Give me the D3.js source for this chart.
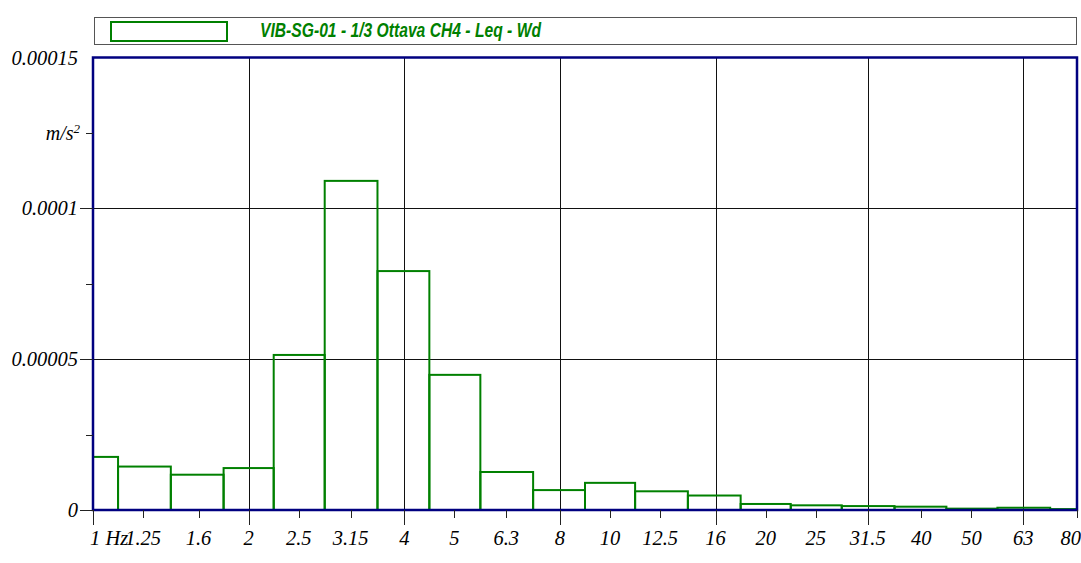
<!DOCTYPE html>
<html>
<head>
<meta charset="utf-8">
<script src="https://cdn.jsdelivr.net/npm/d3@7"></script>
<style>
  html, body { margin: 0; padding: 0; background: #fff; }
  svg { display: block; }
</style>
</head>
<body>
<svg id="chart" width="1081" height="563"></svg>
<script>
// ---- data ----
const bandFreqs = [1, 1.25, 1.6, 2, 2.5, 3.15, 4, 5, 6.3, 8, 10, 12.5, 16, 20, 25, 31.5, 40, 50, 63, 80];
const bandLabels = ["1 Hz", "1.25", "1.6", "2", "2.5", "3.15", "4", "5", "6.3", "8", "10", "12.5", "16", "20", "25", "31.5", "40", "50", "63", "80"];
const leqValues = [17.6e-6, 14.4e-6, 11.7e-6, 13.9e-6, 51.4e-6, 109.1e-6, 79.2e-6, 44.8e-6, 12.6e-6, 6.6e-6,
                   9.0e-6, 6.2e-6, 4.8e-6, 2.0e-6, 1.55e-6, 1.3e-6, 1.1e-6, 0.45e-6, 0.75e-6, 0.3e-6];
const gridFreqs = [2, 4, 8, 16, 31.5, 63];
const longTickFreqs = [1, 2, 4, 8, 16, 31.5, 63];
const yMajorTicks = [0, 0.00005, 0.0001, 0.00015];
const yMajorLabels = ["0", "0.00005", "0.0001", "0.00015"];
const yMinorTicks = [0.000025, 0.000075, 0.000125];
const yUnitBase = "m/s";
const yUnitExp = "2";
const legendText = "VIB-SG-01 - 1/3 Ottava CH4 - Leq - Wd";

// ---- layout ----
const L = 93, R = 1077, T = 57.5, B = 510;
const green = "#008000", navy = "#000080";
const serif = "Liberation Serif, Times New Roman, serif";

const svg = d3.select("#chart");
const x = d3.scaleLog().domain([1, 80]).range([L, R]);
const y = d3.scaleLinear().domain([0, 0.00015]).range([B, T]);

// legend
svg.append("rect").attr("x", 94.5).attr("y", 17.5).attr("width", 982).attr("height", 27)
  .attr("fill", "#fff").attr("stroke", "#555").attr("stroke-width", 1);
svg.append("rect").attr("x", 111).attr("y", 22).attr("width", 116).attr("height", 19)
  .attr("fill", "none").attr("stroke", green).attr("stroke-width", 2);
svg.append("text").attr("x", 260).attr("y", 36.5)
  .attr("font-family", "Liberation Sans, Arial, sans-serif")
  .attr("font-weight", "bold").attr("font-style", "italic")
  .attr("font-size", 19.5).attr("fill", green)
  .attr("textLength", 281).attr("lengthAdjust", "spacingAndGlyphs")
  .text(legendText);

// clip
svg.append("clipPath").attr("id", "plotclip").append("rect")
  .attr("x", L).attr("y", T).attr("width", R - L).attr("height", B - T);

// grid lines
const grid = svg.append("g");
grid.selectAll("line.v").data(gridFreqs).enter().append("line")
  .attr("x1", d => Math.round(x(d)) + 0.5).attr("x2", d => Math.round(x(d)) + 0.5)
  .attr("y1", T).attr("y2", B)
  .attr("stroke", "#111").attr("stroke-width", 1);
grid.selectAll("line.h").data(yMajorTicks.filter(d => d > 0 && d < 0.00015)).enter().append("line")
  .attr("x1", L).attr("x2", R)
  .attr("y1", d => Math.round(y(d)) + 0.5).attr("y2", d => Math.round(y(d)) + 0.5)
  .attr("stroke", "#111").attr("stroke-width", 1);

// bars
const edges = bandFreqs.map((f, i) => {
  const lo = i === 0 ? f : Math.sqrt(bandFreqs[i - 1] * f);
  const hi = i === bandFreqs.length - 1 ? f : Math.sqrt(f * bandFreqs[i + 1]);
  return [lo, hi];
});
svg.append("g").attr("clip-path", "url(#plotclip)")
  .selectAll("rect").data(leqValues).enter().append("rect")
  .attr("x", (d, i) => x(edges[i][0]))
  .attr("width", (d, i) => x(edges[i][1]) - x(edges[i][0]))
  .attr("y", d => y(d))
  .attr("height", d => B - y(d))
  .attr("fill", "none").attr("stroke", green).attr("stroke-width", 2);

// frame
svg.append("rect").attr("x", L).attr("y", T).attr("width", R - L).attr("height", B - T)
  .attr("fill", "none").attr("stroke", navy).attr("stroke-width", 2.5);

// y axis ticks & labels
const yax = svg.append("g");
yax.selectAll("line.maj").data(yMajorTicks.filter(d => d < 0.00015)).enter().append("line")
  .attr("x1", 80).attr("x2", L)
  .attr("y1", d => Math.round(y(d)) + 0.5).attr("y2", d => Math.round(y(d)) + 0.5)
  .attr("stroke", "#222").attr("stroke-width", 1);
yax.selectAll("line.min").data(yMinorTicks).enter().append("line")
  .attr("x1", 86).attr("x2", L)
  .attr("y1", d => Math.round(y(d)) + 0.5).attr("y2", d => Math.round(y(d)) + 0.5)
  .attr("stroke", "#222").attr("stroke-width", 1);
yax.selectAll("text.lab").data(yMajorTicks).enter().append("text")
  .attr("x", 78).attr("y", d => y(d) + 7)
  .attr("text-anchor", "end")
  .attr("font-family", serif)
  .attr("font-style", "italic").attr("font-size", 20.5).attr("fill", "#000")
  .text((d, i) => yMajorLabels[i]);
const unit = yax.append("text").attr("x", 80).attr("y", y(yMinorTicks[2]) + 7)
  .attr("text-anchor", "end")
  .attr("font-family", serif)
  .attr("font-style", "italic").attr("font-size", 20).attr("fill", "#000");
unit.append("tspan").text(yUnitBase);
unit.append("tspan").attr("font-size", 13).attr("dy", -7).text(yUnitExp);

// x axis ticks & labels
const xax = svg.append("g");
xax.selectAll("line").data(bandFreqs).enter().append("line")
  .attr("x1", d => Math.round(x(d)) + 0.5).attr("x2", d => Math.round(x(d)) + 0.5)
  .attr("y1", B).attr("y2", d => longTickFreqs.includes(d) ? 525 : 518)
  .attr("stroke", "#222").attr("stroke-width", 1);
const last = bandFreqs.length - 1;
xax.selectAll("text").data(bandFreqs).enter().append("text")
  .attr("x", (d, i) => i === 0 ? x(d) - 3 : (i === last ? 1081 : x(d)))
  .attr("y", 545)
  .attr("text-anchor", (d, i) => i === 0 ? "start" : (i === last ? "end" : "middle"))
  .attr("font-family", serif)
  .attr("font-style", "italic").attr("font-size", 20.5).attr("fill", "#000")
  .text((d, i) => bandLabels[i]);
</script>
</body>
</html>
